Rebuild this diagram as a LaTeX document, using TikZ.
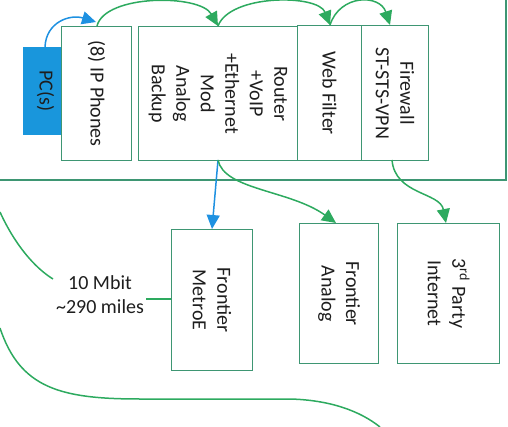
\documentclass[tikz,border=0pt]{standalone}
\usepackage{fontspec}
\setmainfont{Carlito}
\usetikzlibrary{arrows.meta}
\definecolor{boxgreen}{RGB}{62,150,115}
\definecolor{linegreen}{RGB}{45,170,95}
\definecolor{pcblue}{RGB}{25,150,220}
\definecolor{arrowblue}{RGB}{30,145,225}
\definecolor{txt}{RGB}{30,30,30}
\tikzset{
  devbox/.style={draw=boxgreen, line width=1.1pt, fill=white, inner sep=0pt},
  vtext/.style={rotate=-90, align=center, font=\fontsize{20}{24.5}\selectfont, text=txt},
  gconn/.style={draw=linegreen, line width=1.5pt},
  garrow/.style={gconn, -{Triangle[length=14pt,width=13pt]}},
  barrow/.style={draw=arrowblue, line width=1.5pt, -{Triangle[length=14pt,width=13pt]}},
}
\begin{document}
\begin{tikzpicture}[x=1pt,y=-1pt]
\useasboundingbox (0,0) rectangle (508,427);
% frame lines
\draw[draw=boxgreen, line width=1.1pt] (0,180) -- (506,180) -- (506,0);
% boxes
\node[devbox, fill=pcblue, draw=none, minimum width=45pt, minimum height=88pt] (pc) at (45.5,91) {};
\node[vtext] at (pc.center) {PC(s)};
\node[devbox, minimum width=70pt, minimum height=134pt, anchor=north west] (ip) at (61,26) {};
\node[vtext] at (ip.center) {(8) IP Phones};
\node[devbox, minimum width=159pt, minimum height=134pt, anchor=north west] (rt) at (138,26) {};
\node[vtext] at (rt.center) {Router\\+VoIP\\+Ethernet\\Mod\\Analog\\Backup};
\node[devbox, minimum width=64pt, minimum height=135pt, anchor=north west] (wf) at (297,25) {};
\node[vtext] at (wf.center) {Web Filter};
\node[devbox, minimum width=67pt, minimum height=135pt, anchor=north west] (fw) at (361,25) {};
\node[vtext] at (fw.center) {Firewall\\ST-STS-VPN};
\node[devbox, minimum width=81pt, minimum height=141pt, anchor=north west] (me) at (171,229) {};
\node[vtext] at (me.center) {Frontier\\MetroE};
\node[devbox, minimum width=79pt, minimum height=140pt, anchor=north west] (fa) at (299,223) {};
\node[vtext] at (fa.center) {Frontier\\Analog};
\node[devbox, minimum width=102pt, minimum height=140pt, anchor=north west] (tp) at (397,223) {};
\node[vtext] at (tp.center) {3\textsuperscript{rd} Party\\Internet};
% label
\node[align=center, font=\fontsize{20}{24}\selectfont, text=txt, inner sep=1pt] (lbl) at (100,295) {10 Mbit\\\textasciitilde290 miles};
% coordinates
\coordinate (ipT) at (97,26);
\coordinate (rtT) at (218,26);
\coordinate (wfT) at (330,25);
\coordinate (fwT) at (390,25);
\coordinate (rtB) at (218,160);
\coordinate (fwB) at (392,160);
\coordinate (meT) at (212,229);
\coordinate (faT) at (336,223);
\coordinate (tpT) at (446,223);
\coordinate (pcT) at (45,47);
\coordinate (ipTL) at (96,22);
\coordinate (lblNW) at (53,279);
\coordinate (leftA) at (0,212);
\coordinate (leftB) at (0,328);
\coordinate (botR) at (380,427);
% connectors
\draw[barrow] (pcT) .. controls (46,22) and (70,14) .. (ipTL);
\draw[garrow] (ipT) .. controls (105,-6) and (200,-6) .. (rtT);
\draw[garrow] (rtT) .. controls (230,-6) and (318,-6) .. (wfT);
\draw[garrow] (wfT) .. controls (340,-6) and (380,-6) .. (fwT);
\draw[barrow] (rtB) -- (meT);
\draw[garrow] (rtB) .. controls (224,190) and (290,190) .. (faT);
\draw[garrow] (fwB) .. controls (395,195) and (440,192) .. (tpT);
\draw[gconn] (146,299) -- (me.west |- 0,299);
\draw[gconn] (leftA) .. controls (15,245) and (35,268) .. (lblNW);
\draw[gconn] (leftB) .. controls (20,388) and (60,399) .. (140,399) -- (290,399) .. controls (330,400) and (360,411) .. (botR);
\end{tikzpicture}
\end{document}
